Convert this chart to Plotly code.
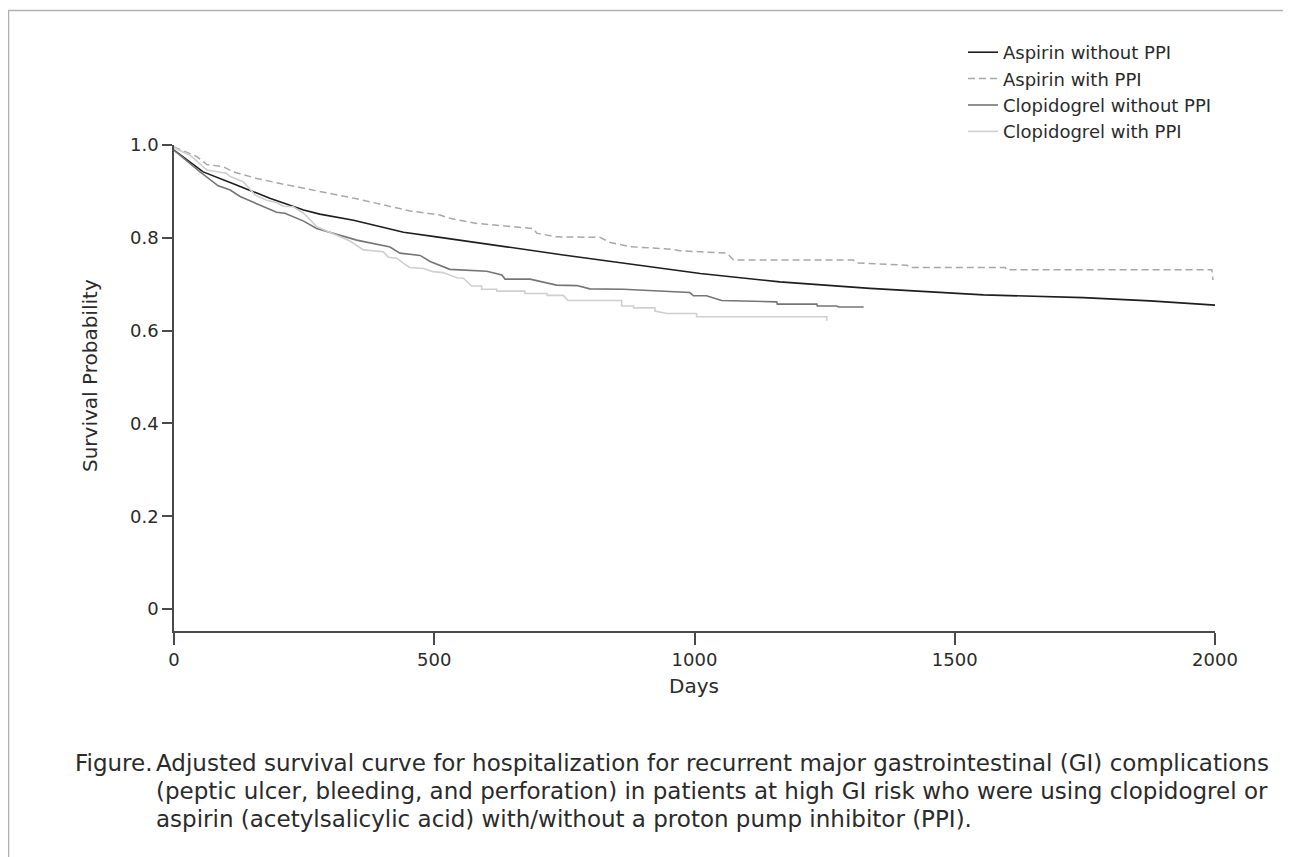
import plotly.graph_objects as go

# ---- data ----
aspirin_no_ppi_days = [0, 56, 120, 184, 249, 280, 345, 441, 511, 748, 1011, 1164, 1337, 1510, 1555, 1747, 1875, 2000]
aspirin_no_ppi_surv = [0.989, 0.942, 0.914, 0.885, 0.860, 0.851, 0.838, 0.812, 0.801, 0.763, 0.723, 0.705, 0.691, 0.680, 0.677, 0.671, 0.664, 0.655]

aspirin_ppi_days = [0, 44, 63, 95, 114, 159, 204, 249, 300, 351, 402, 453, 511, 530, 582, 690, 697, 735, 818, 838,
                    876, 959, 972, 1062, 1075, 1305, 1312, 1408, 1414, 1597, 1600, 1994, 1996]
aspirin_ppi_surv = [0.996, 0.975, 0.958, 0.953, 0.942, 0.928, 0.917, 0.907, 0.896, 0.884, 0.871, 0.858, 0.849, 0.842,
                    0.831, 0.820, 0.810, 0.802, 0.801, 0.790, 0.781, 0.775, 0.772, 0.767, 0.752, 0.752, 0.746, 0.741,
                    0.736, 0.736, 0.731, 0.731, 0.709]

clopi_no_ppi_days = [0, 50, 85, 108, 127, 159, 197, 213, 249, 274, 313, 351, 415, 434, 473, 492, 530, 601, 630, 636,
                     684, 735, 774, 799, 863, 991, 998, 1023, 1052, 1158, 1159, 1235, 1236, 1273, 1277, 1325]
clopi_no_ppi_surv = [0.989, 0.942, 0.912, 0.903, 0.889, 0.874, 0.855, 0.853, 0.836, 0.820, 0.808, 0.795, 0.780, 0.767,
                     0.762, 0.749, 0.732, 0.728, 0.720, 0.711, 0.711, 0.698, 0.697, 0.690, 0.689, 0.682, 0.675, 0.675,
                     0.665, 0.662, 0.657, 0.657, 0.653, 0.653, 0.651, 0.651]

clopi_ppi_days = [0, 31, 63, 101, 108, 133, 156, 178, 197, 210, 229, 249, 274, 313, 338, 364, 402, 412, 428, 441,
                  453, 479, 498, 517, 543, 556, 572, 591, 591, 620, 620, 674, 674, 716, 717, 748, 757, 860, 860, 883,
                  883, 924, 924, 947, 1004, 1004, 1254, 1254]
clopi_ppi_surv = [0.994, 0.978, 0.946, 0.939, 0.932, 0.921, 0.892, 0.881, 0.876, 0.868, 0.867, 0.853, 0.824, 0.806,
                  0.793, 0.774, 0.770, 0.758, 0.756, 0.745, 0.736, 0.734, 0.727, 0.725, 0.714, 0.713, 0.696, 0.696,
                  0.689, 0.689, 0.685, 0.685, 0.680, 0.680, 0.676, 0.676, 0.665, 0.665, 0.653, 0.653, 0.649, 0.649,
                  0.642, 0.637, 0.637, 0.630, 0.630, 0.621]

series_names = ["Aspirin without PPI", "Aspirin with PPI", "Clopidogrel without PPI", "Clopidogrel with PPI"]

x_ticks = [0, 500, 1000, 1500, 2000]
y_ticks = [0, 0.2, 0.4, 0.6, 0.8, 1.0]
y_tick_labels = ["0", "0.2", "0.4", "0.6", "0.8", "1.0"]

caption_lead = "Figure."
caption_lines = [
    "Adjusted survival curve for hospitalization for recurrent major gastrointestinal (GI) complications",
    "(peptic ulcer, bleeding, and perforation) in patients at high GI risk who were using clopidogrel or",
    "aspirin (acetylsalicylic acid) with/without a proton pump inhibitor (PPI).",
]

FONT = "DejaVu Sans"
TXT = "#2b2b2b"

fig = go.Figure()
styles = [
    dict(color="#1e1e1e", width=1.6, dash="solid"),
    dict(color="#a8a8a8", width=1.5, dash="7px,4px"),
    dict(color="#757575", width=1.6, dash="solid"),
    dict(color="#cfcfcf", width=1.6, dash="solid"),
]
data = [
    (aspirin_no_ppi_days, aspirin_no_ppi_surv),
    (aspirin_ppi_days, aspirin_ppi_surv),
    (clopi_no_ppi_days, clopi_no_ppi_surv),
    (clopi_ppi_days, clopi_ppi_surv),
]
for name, (xs, ys), st in zip(series_names, data, styles):
    fig.add_trace(go.Scatter(x=xs, y=ys, mode="lines", name=name, line=st))

# page body has an 8px margin, so the figure is 8px smaller than the window on each axis
W, H = 1283, 849
L, R, T, B = 166, 76, 137, 226
pw, ph = W - L - R, H - T - B


def px_x(p):
    """reference-picture x pixel -> paper coordinate"""
    return (p - 8 - L) / pw


def px_y(p):
    """reference-picture y pixel -> paper coordinate"""
    return (H - B - (p - 8)) / ph


fig.update_layout(
    width=W, height=H,
    margin=dict(l=L, r=R, t=T, b=B, pad=0),
    paper_bgcolor="white", plot_bgcolor="white",
    font=dict(family=FONT, size=18, color=TXT),
    showlegend=True,
    legend=dict(
        x=px_x(963), y=px_y(34), xanchor="left", yanchor="top",
        font=dict(family=FONT, size=18, color=TXT),
        bgcolor="rgba(0,0,0,0)", tracegroupgap=0, itemwidth=30,
    ),
    xaxis=dict(
        range=[0, 2000], tickvals=x_ticks, ticktext=[str(v) for v in x_ticks],
        showgrid=False, zeroline=False, showline=True, linecolor="#4a4a4a", linewidth=1.5,
        ticks="outside", ticklen=12, tickwidth=1.5, tickcolor="#4a4a4a",
        tickfont=dict(family=FONT, size=18, color=TXT),
    ),
    yaxis=dict(
        range=[-0.0474, 1.0], tickvals=y_ticks, ticktext=y_tick_labels,
        showgrid=False, zeroline=False, showline=True, linecolor="#4a4a4a", linewidth=1.5,
        ticks="outside", ticklen=10, tickwidth=1.5, tickcolor="#4a4a4a",
        tickfont=dict(family=FONT, size=18, color=TXT),
    ),
)

CAP = 23
annotations = [
    dict(text="Days", x=px_x(694), y=px_y(686), xref="paper", yref="paper",
         showarrow=False, xanchor="center", yanchor="middle", font=dict(size=20)),
    dict(text="Survival Probability", x=px_x(90), y=px_y(376), xref="paper", yref="paper",
         showarrow=False, xanchor="center", yanchor="middle", textangle=-90, font=dict(size=20)),
    dict(text=caption_lead, x=px_x(73), y=px_y(763), xref="paper", yref="paper",
         showarrow=False, xanchor="left", yanchor="middle", font=dict(size=CAP)),
]
for i, line in enumerate(caption_lines):
    annotations.append(dict(text=line, x=px_x(154), y=px_y(763 + 28 * i), xref="paper", yref="paper",
                            showarrow=False, xanchor="left", yanchor="middle", font=dict(size=CAP)))
fig.update_layout(annotations=annotations)

# outer frame of the figure panel
fig.add_shape(type="rect", xref="paper", yref="paper",
              x0=px_x(8.5), x1=px_x(1320), y0=px_y(900), y1=px_y(10.5),
              line=dict(color="#b0b0b0", width=1.5), fillcolor="rgba(0,0,0,0)", layer="below")

fig.write_html("out.html")
